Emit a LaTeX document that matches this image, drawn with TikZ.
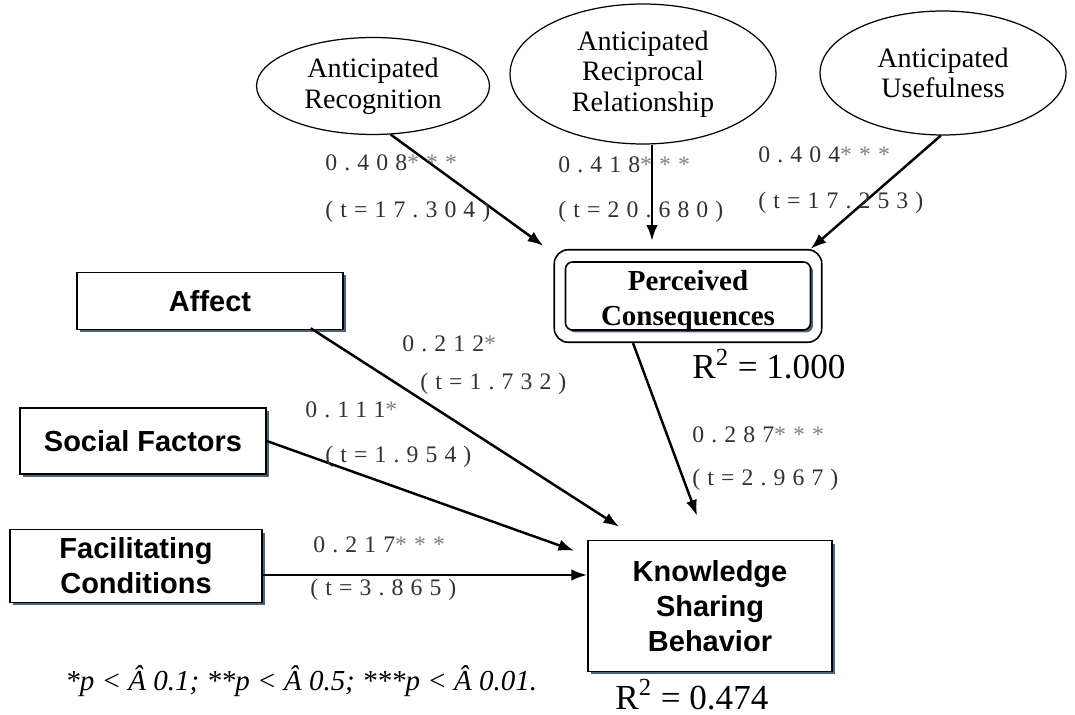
\documentclass[tikz,border=0pt]{standalone}
\usepackage{fontspec}
\setmainfont{Liberation Serif}
\newfontfamily\boxfont{Liberation Sans}
\newfontfamily\coeffont[LetterSpace=30]{Liberation Serif}
\usetikzlibrary{shapes, shadows, fit, arrows.meta}
\definecolor{shadowblue}{RGB}{75,100,125}
\definecolor{coefgray}{RGB}{50,50,50}
\definecolor{stargray}{RGB}{130,130,130}
\newcommand{\pxunit}{0.02cm}
\newcommand{\stars}[1]{\textcolor{stargray}{#1}}

\begin{document}
\begin{tikzpicture}[
        x = \pxunit, y = -\pxunit,
        >= {Latex[length = 9pt, width = 6.5pt]},
        every node/.style = {inner sep = 0pt},
        latent/.style = {ellipse, draw, line width = 0.7pt, align = center,
                         font = \fontsize{16}{17.5}\selectfont},
        factor/.style = {rectangle, draw, line width = 0.9pt, fill = white, align = center,
                         font = \fontsize{16.5}{20}\boxfont\bfseries,
                         drop shadow = {shadow xshift = 0.06cm, shadow yshift = -0.06cm,
                                        fill = shadowblue, opacity = 1}},
        outcome/.style = {rectangle, rounded corners = 4pt, draw, line width = 0.9pt, fill = white,
                          drop shadow = {shadow xshift = 0.05cm, shadow yshift = -0.05cm,
                                         fill = shadowblue, opacity = 1}},
        coef/.style = {anchor = west, text = coefgray, font = \fontsize{13.5}{15}\coeffont},
        rsq/.style = {anchor = base west, font = \fontsize{20}{22}\selectfont},
        path/.style = {->, line width = 1.4pt}
      ]
      \useasboundingbox (0,0) rectangle (1075,715);

      % anticipated beliefs
      \node[latent, minimum width = 4.66cm, minimum height = 1.94cm] (recog) at (373,86)
        {Anticipated\\Recognition};
      \node[latent, minimum width = 5.32cm, minimum height = 2.8cm] (recip) at (643,74)
        {Anticipated\\Reciprocal\\Relationship};
      \node[latent, minimum width = 4.92cm, minimum height = 2.48cm] (useful) at (943,73)
        {Anticipated\\Usefulness};

      % perceived consequences (double frame)
      \node[outcome, minimum width = 4.9cm, minimum height = 1.36cm] (pc) at (688,296) {};
      \node[align = center, font = \fontsize{16.5}{20}\selectfont\bfseries] (pctext)
        at ([yshift = -0.1cm]pc.center) {Perceived\\Consequences};
      \node[draw, rounded corners = 8pt, line width = 0.9pt, fit = (pc),
            inner xsep = 0.21cm, inner ysep = 0.23cm] (pcout) {};

      % other factors
      \node[factor, minimum width = 5.32cm, minimum height = 1.14cm] (affect) at (210,301) {Affect};
      \node[factor, minimum width = 4.92cm, minimum height = 1.32cm] (social) at (143,441) {Social Factors};
      \node[factor, minimum width = 5.04cm, minimum height = 1.46cm] (facil) at (136,566)
        {Facilitating\\Conditions};
      \node[factor, minimum width = 4.88cm, minimum height = 2.62cm] (ksb) at (710,606)
        {Knowledge\\Sharing\\Behavior};

      % paths
      \draw[path] (recog.-70) -- ([xshift = -0.2cm, yshift = 0.06cm]pcout.north west);
      \draw[path] ([xshift = 0.18cm]recip.south) -- ([xshift = 0.18cm, yshift = 0.16cm]recip.south |- pcout.north);
      \draw[path] (useful.-92) -- ([xshift = -0.24cm]pcout.north east);
      \draw[path] ([xshift = -1.1cm]pcout.south) -- ([xshift = -0.26cm, yshift = 0.48cm]ksb.north);
      \draw[path] ([xshift = -0.66cm, yshift = 0.04cm]affect.south east) -- ([xshift = 0.64cm, yshift = 0.26cm]ksb.north west);
      \draw[path] (social.east) -- ([xshift = -0.26cm, yshift = -0.22cm]ksb.north west);
      \draw[path] ([yshift = -0.18cm]facil.east) -- ([yshift = -0.18cm]facil.east -| ksb.west);

      % coefficients
      \node[coef] (c1) at (325,163) {0.408\stars{***}};
      \node[coef] (t1) at (325,212) {(t=17.304)};
      \node[coef] (c2) at (558,165) {0.418\stars{***}};
      \node[coef] (t2) at (558,212) {(t=20.680)};
      \node[coef] (c3) at (758,155) {0.404\stars{***}};
      \node[coef] (t3) at (758,203) {(t=17.253)};
      \node[coef] (c4) at (402,344) {0.212\stars{*}};
      \node[coef] (t4) at (420,384) {(t=1.732)};
      \node[coef] (c5) at (305,410) {0.111\stars{*}};
      \node[coef] (t5) at (325,457) {(t=1.954)};
      \node[coef] (c6) at (313,545) {0.217\stars{***}};
      \node[coef] (t6) at (310,590) {(t=3.865)};
      \node[coef] (c7) at (692,435) {0.287\stars{***}};
      \node[coef] (t7) at (692,480) {(t=2.967)};

      % explained variance
      \node[rsq] (r1) at (692,379) {R\textsuperscript{2} = 1.000};
      \node[rsq] (r2) at (615,709) {R\textsuperscript{2} = 0.474};

      % significance note
      \node[anchor = west, font = \fontsize{16.5}{18}\selectfont\itshape] (note) at (65,681)
        {*p < Â 0.1; **p < Â 0.5; ***p < Â 0.01.};
    \end{tikzpicture}
\end{document}
